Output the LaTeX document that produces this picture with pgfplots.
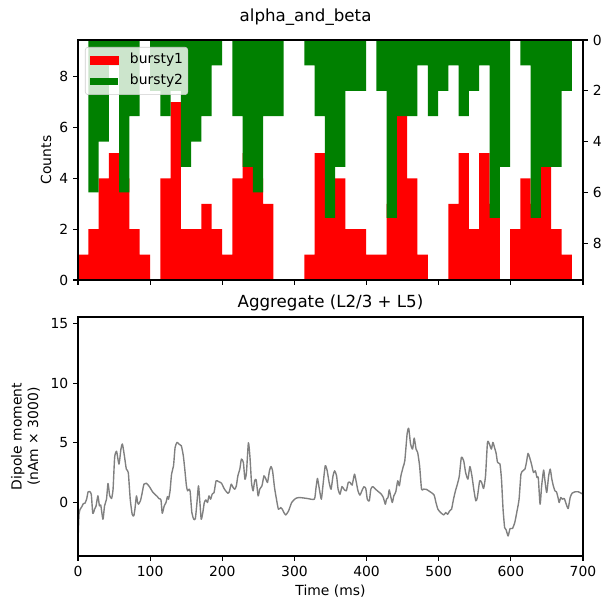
\documentclass[border=0pt]{standalone}
\usepackage{fontspec}
\setmainfont{DejaVu Sans}
\usepackage{pgfplots}
\usepackage{pgfplotstable}
\pgfplotsset{compat=1.18}
\definecolor{mplgreen}{HTML}{008000}
\definecolor{mplgray}{HTML}{808080}
\definecolor{legedge}{HTML}{CCCCCC}

\pgfplotstableread{
x r g
0 1 0
14.26 2 6
28.52 4 4
42.78 5 1
57.04 4 6
71.30 2 3
85.56 1 0
99.82 0 2
114.08 4 3
128.34 7 2
142.60 2 5
156.86 2 4
171.12 3 3
185.38 2 1
199.64 1 0
213.90 4 3
228.16 5 5
242.42 4 6
256.68 3 3
270.94 0 3
285.20 0 0
299.46 0 0
313.72 1 1
327.98 5 3
342.24 3 7
356.50 4 5
370.76 2 2
385.02 2 2
399.28 1 0
413.54 1 2
427.80 3 7
442.06 7 3
456.32 4 3
470.58 1 1
484.84 0 3
499.10 0 2
513.36 3 1
527.62 5 3
541.88 2 2
556.14 5 1
570.40 3 7
584.66 0 5
598.92 2 0
613.18 4 1
627.44 3 7
641.70 5 5
655.96 2 5
670.22 1 2
684.48 0 0
}\bins

\pgfplotstableread{
t v
0 -3.3
0.6 -2.2
1.4 -1.0
2.7 -0.6
5.4 -0.34
7.3 -0.1
9.7 -0.05
12 0.3
14 0.9
16 0.92
18.4 0.7
20.5 -0.9
23 -0.56
25 -0.3
27.6 0.56
29.7 -0.28
31.5 -0.2
34.6 -1.4
36.8 -0.28
39.5 0.28
41.6 1.6
43.8 0.62
46.5 0.34
48.6 1.12
50.8 3.78
53.5 4.29
56.8 3.22
59.5 4.48
61.6 4.9
64.3 3.92
67 2.8
69.7 2.52
72.4 0.28
75.1 -0.98
77.3 -1.12
78.9 -0.56
81 0.56
82.5 0.05
83.8 -0.14
86.5 0.14
88.6 0.7
91.4 1.54
94.6 1.62
98.9 1.34
104 0.84
110 0.5
112 0.34
115 0.22
116.8 -0.9
119.5 -0.28
122 0
124 0.5
125.5 0.28
127.6 0.98
129.7 2.38
132.4 3.08
134.6 4.62
137.3 5.04
140 4.9
143.2 4.76
146 3.92
148 2.8
150.3 1.4
151.9 0.98
154 1.12
155.5 0.9
157.8 -0.84
160.5 -1.4
162.7 -1.34
164.9 0
167 1.4
169 0
170.8 -1.4
173 -0.84
175.1 0
177.3 0.22
179.5 0
181.6 0.56
183.8 0.28
186 0.7
188.6 0.84
191.4 1.82
194.6 1.76
198.9 1.62
203 1.12
207.6 0.78
209.7 0.9
212.4 1.54
215 1.26
217.3 1.12
219.5 1.4
221.6 2.24
224.3 2.8
226.5 3.64
229.2 3.36
231.4 1.96
233.5 2.52
236.2 5.01
238.4 3.78
240.5 1.68
242.7 0.98
244.9 1.82
247 1.9
249.7 0.56
251.9 1.12
255 1.4
257.8 2.24
260.5 1.96
262.7 1.68
265.4 2.66
267.6 3.02
269.7 2.66
272.4 1.26
275.1 0.28
277.8 -0.56
281 -0.42
283.2 -0.56
285.4 -0.84
288 -1.04
291.9 -0.7
296.2 0
301.6 0.34
307 0.42
317.8 0.34
327.6 0.28
329.7 1.12
331.9 2.02
334.6 1.12
337.3 0.28
339.5 1.4
342.7 3.08
345.4 2.66
348.1 1.68
350.8 1.12
353.5 2.24
355.7 2.66
358.4 2.24
360.5 1.12
363.2 0.7
365.9 1.34
368.6 1.12
371.9 0.98
374.6 1.68
377.3 1.68
380 1.46
383.2 2.38
385.4 1.82
388.1 0.98
390.8 0.62
393.5 0.98
396.2 1.32
398.9 1.18
401 0.28
403.8 0.14
405.9 1.12
408.6 1.34
412.4 1.12
416.2 0.92
420.5 0.7
423.2 0.42
426 -0.14
427.6 0.28
429.7 0.42
431.4 1.06
433.5 0.5
435.7 0
437.8 0.56
440.5 0.9
443.2 1.82
445.4 1.4
447.6 2.24
450.8 3.0
453 3.5
456.2 5.74
458.4 6.22
461 4.9
463.8 4.48
466 5.4
468.6 4.48
470.8 4.2
473.5 3.08
476.2 1.12
478.9 1.12
483 1.1
488.1 0.9
493.5 0.64
496.2 0
498.9 -0.56
502.7 -0.84
507 -1.04
509.7 -0.84
512.4 -0.98
515.1 -0.7
517.8 -0.56
520.5 0.28
523.2 0.98
525.9 1.54
528.6 2.24
531.4 3.78
534.6 3.5
537.3 2.52
540.5 1.96
543.2 3.02
546 2.24
548.6 1.12
551.4 0.14
553.5 0.42
556.8 1.82
559.5 1.68
562.2 1.18
564.9 2.24
567.6 5.04
570.3 4.9
573 4.48
575.1 5.04
577.3 4.62
579.5 4.15
581.6 3.36
584.9 3.22
587 1.96
589.2 -0.56
591.4 -2.1
593.5 -2.3
596.2 -2.8
598.9 -2.18
602.2 -2.18
605.4 -1.68
608.6 -0.7
611.4 0.28
614 2.38
616.8 2.66
619.5 2.8
621.6 3.36
623.8 4.12
626 3.78
628.6 3.22
631.4 2.52
634 2.66
636.2 2.1
638 2.1
640.5 -0.14
642.7 1.4
645.4 2.72
647 1.96
649.7 0.84
652.4 2.24
654.6 2.8
656.8 1.96
658.9 1.4
661.1 0.98
663.2 0.9
665.4 0.42
667 0
669.2 0.42
671.4 0.28
674 0.34
676.8 -0.14
679.5 -0.5
682.2 0.42
684.9 0.78
689.2 0.9
693.5 0.9
700 0.7
}\dipole

\pgfplotsset{
  mpl/.style={
    scale only axis,
    width=363.6pt,
    anchor=south west,
    xmin=0, xmax=700,
    tick align=outside,
    major tick length=3.5pt,
    tick style={black, line width=0.8pt},
    axis line style={line width=0.8pt},
    ticklabel style={font=\fontsize{10}{12}\selectfont},
    label style={font=\fontsize{10}{12}\selectfont},
    /pgf/number format/assume math mode=true,
    axis on top,
  }
}

\begin{document}
\begin{tikzpicture}
\useasboundingbox (0,0) rectangle (439.92pt,439.92pt);

% top: bursty1 counts
\begin{axis}[mpl,
  at={(56.16pt,238.32pt)}, height=172.8pt,
  ymin=0, ymax=9.45,
  xtick={0,100,...,700}, xticklabels={},
  xtick pos=bottom, ytick pos=left,
  ytick={0,2,4,6,8},
  ylabel={Counts},
  ylabel style={at={(axis description cs:-0.0633,0.5)}, anchor=center},
]
\addplot[ybar interval, fill=red, draw=none] table[x=x, y=r] {\bins};
\end{axis}

% top: bursty2 counts on reversed right axis
\begin{axis}[mpl,
  at={(56.16pt,238.32pt)}, height=172.8pt,
  ymin=0, ymax=9.45, y dir=reverse,
  xtick=\empty,
  ytick pos=right, yticklabel pos=right,
  ytick={0,2,4,6,8},
  legend style={at={(0,1)}, anchor=north west, xshift=5.04pt, yshift=-5.04pt,
    fill=white, fill opacity=0.8, draw=legedge, text opacity=1,
    rounded corners=2pt, font=\fontsize{10}{12}\selectfont,
    inner xsep=3.4pt, inner ysep=4.5pt, row sep=5.1pt, column sep=8.4pt,
    nodes={inner sep=0pt, text height=7.5pt, text depth=2.5pt}},
  legend cell align=left,
]
\addlegendimage{legend image code/.code={\fill[red, sharp corners, fill opacity=1] (0pt,-2.7pt) rectangle (20pt,2.7pt);}}
\addlegendentry{bursty1}
\addplot[ybar interval, fill=mplgreen, draw=none,
  legend image code/.code={\fill[mplgreen, sharp corners, fill opacity=1] (0pt,-2.7pt) rectangle (20pt,2.7pt);}]
  table[x=x, y=g] {\bins};
\addlegendentry{bursty2}
\end{axis}

% bottom: aggregate dipole
\begin{axis}[mpl,
  at={(56.16pt,39.6pt)}, height=172.1pt,
  ymin=-4.48, ymax=15.55,
  xtick={0,100,...,700}, ytick={0,5,10,15},
  xtick pos=bottom, ytick pos=left,
  xlabel={Time (ms)},
  xlabel style={at={(axis description cs:0.5,-0.146)}, anchor=center},
  ylabel={Dipole moment\\(nAm × 3000)},
  ylabel style={at={(axis description cs:-0.104,0.5)}, anchor=center, align=center},
  title={Aggregate (L2/3 + L5)},
  every axis title shift=0pt,
  title style={at={(axis description cs:0.5,1.058)}, anchor=center, font=\fontsize{12}{14}\selectfont},
]
\addplot[mplgray, line width=1pt, smooth, tension=0.35, line join=round] table[x=t, y=v] {\dipole};
\end{axis}

\node[font=\fontsize{12}{14}\selectfont, anchor=center] at (220pt,427.6pt) {alpha\_and\_beta};
\end{tikzpicture}
\end{document}
